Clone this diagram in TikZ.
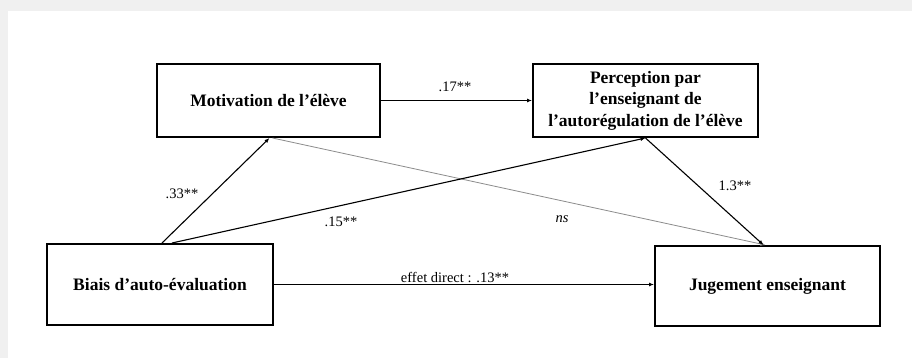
\documentclass[tikz,border=0pt]{standalone}
\usepackage{fontspec}
\setmainfont{Liberation Serif}
\usetikzlibrary{arrows.meta,calc}
\begin{document}
\begin{tikzpicture}[x=1pt,y=-1pt,
  box/.style={draw=black,line width=2pt,fill=white,inner sep=0pt,font=\fontsize{17.5}{21.5}\selectfont\bfseries,align=center},
  conn/.style={line width=1.1pt,-{Latex[length=5pt,width=4pt]}},
  nsconn/.style={line width=0.8pt,draw=black!45,-{Latex[length=5pt,width=4pt]}},
  lbl/.style={font=\fontsize{14.5}{16}\selectfont,inner sep=0pt}]
\fill[black!6] (0,0) rectangle (912,358);
\fill[white] (8,11) rectangle (912,358);
\useasboundingbox (0,0) rectangle (912,358);
\node[box,minimum width=223pt,minimum height=73pt] (mo) at (268.5,100.5) {Motivation de l’élève};
\node[box,minimum width=225pt,minimum height=73pt] (pe) at (645.5,100.5) {Perception par\\l’enseignant de\\l’autorégulation de l’élève};
\node[box,minimum width=226pt,minimum height=81pt] (bi) at (160,284.5) {Biais d’auto-évaluation};
\node[box,minimum width=225pt,minimum height=80pt] (ju) at (767.5,286) {Jugement enseignant};
\coordinate (b1) at ($(bi.north)+(2,0)$);
\coordinate (b2) at ($(bi.north)+(12,0)$);
\coordinate (m1) at ($(mo.south)+(1,0)$);
\coordinate (m2) at ($(mo.south)+(4,0)$);
\coordinate (j1) at ($(ju.north)+(-4,0)$);
\coordinate (j2) at ($(ju.north)+(-2,0)$);
\draw[nsconn] (m2) -- (j2);
\draw[conn] (mo.east) -- (mo.east -| pe.west);
\draw[conn] (b1) -- (m1);
\draw[conn] (b2) -- (pe.south);
\draw[conn] (pe.south) -- (j1);
\draw[conn] (bi.east) -- (bi.east -| ju.west);
\node[lbl] (l17) at (455,87) {.17**};
\node[lbl] (l33) at (182,194) {.33**};
\node[lbl] (l15) at (341,222) {.15**};
\node[lbl] (lns) at (562,219) {\itshape ns};
\node[lbl] (l13b) at (735,186) {1.3**};
\node[lbl] (led) at (455,277) {effet direct : .13**};
\end{tikzpicture}
\end{document}
